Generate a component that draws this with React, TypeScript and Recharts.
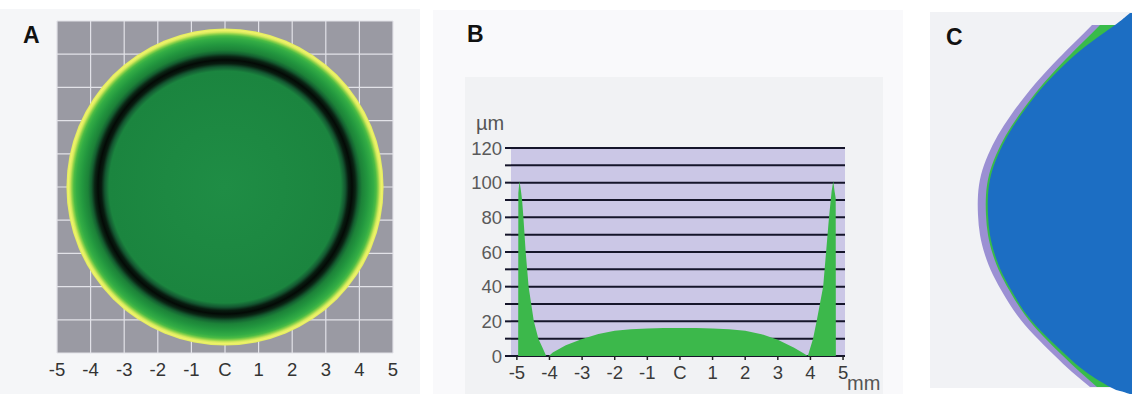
import React from 'react';
import { ComposedChart, Area, XAxis, YAxis, CartesianGrid, ReferenceDot } from 'recharts';

// ---------- shared axis (mm) ----------
const mmTicks = [-5, -4, -3, -2, -1, 0, 1, 2, 3, 4, 5];
const mmTickLabels = ['-5', '-4', '-3', '-2', '-1', 'C', '1', '2', '3', '4', '5'];

// ---------- Panel A : thickness map disc ----------
const discRadiusMm = 4.72;
const discStopMm = [0, 3.45, 3.58, 3.68, 3.78, 3.88, 3.98, 4.08, 4.25, 4.42, 4.5, 4.56, 4.61, 4.66, 4.72];
const discStopColor = ['#1f8d45', '#1b853f', '#135630', '#081c10', '#040a06', '#0a2414', '#145f30', '#1c8238', '#23983f', '#33ad45', '#4cbc44', '#8fd24a', '#d2e85a', '#eef26a', '#e2ec5e'];

// ---------- Panel B : thickness profile ----------
const profileMm = [-4.96, -4.955, -4.92, -4.88, -4.84, -4.8, -4.73, -4.64, -4.48, -4.34, -4.22, -4.1, -4.02, -3.9, -3.5, -3.0, -2.5, -2.0, -1.5, -1.0, -0.5, 0, 0.5, 1.0, 1.5, 2.0, 2.5, 3.0, 3.5, 3.8, 3.92, 4.08, 4.19, 4.39, 4.48, 4.57, 4.65, 4.7, 4.74, 4.775, 4.78];
const thicknessUm = [0, 94, 101, 96, 90, 80, 60, 40, 20, 10, 5, 0, 0, 2, 6.2, 9.8, 12.7, 14.6, 15.5, 15.9, 16.1, 16.2, 16.1, 15.9, 15.4, 14.6, 12.6, 9.4, 4.7, 1.5, 0, 10, 20, 40, 60, 80, 95, 101, 95, 91, 0];
const umTicks = [0, 10, 20, 30, 40, 50, 60, 70, 80, 90, 100, 110, 120];
const umTickLabels = ['0', '', '20', '', '40', '', '60', '', '80', '', '100', '', '120'];

// ---------- Panel C : cross-section edge profile ----------
const edgeRow = [13, 18, 25, 40, 55, 75, 95, 115, 135, 155, 175, 195, 215, 235, 255, 275, 295, 315, 335, 355, 372, 387, 391, 394];
const purpleDepth = [null, null, 40, 55, 70, 89, 106, 121, 134, 144, 151, 154, 154, 152, 147, 139, 128, 115, 98, 78, 60, 42, null, null];
const greenDepth = [null, null, 32, 47, 62, 81, 98, 113, 126, 136, 143, 146, 146, 144, 139, 131, 120, 107, 90, 70, 52, 35, null, null];
const blueDepth = [2, 8, 17, 38, 57, 78, 96, 111, 124, 134, 141, 144, 144, 142, 137, 129, 118, 105, 87, 66, 46, 22, 12, 2];

const profileData = profileMm.map((x, i) => ({ x, t: thicknessUm[i] }));
const edgeData = edgeRow.map((y, i) => ({ y, purple: purpleDepth[i], green: greenDepth[i], blue: blueDepth[i] }));

const FONT = '"Liberation Sans", Arial, Helvetica, sans-serif';

const PanelA = () => {
  const margin = { top: 21, right: 27, bottom: 11, left: 57 };
  const width = 420;
  const plotW = width - margin.left - margin.right;
  const pxPerMm = plotW / (mmTicks[mmTicks.length - 1] - mmTicks[0]);
  return (
    <ComposedChart width={width} height={394} margin={margin} data={[{ x: 0, y: 0 }]}>
      <defs>
        <radialGradient id="discGrad" cx="50%" cy="50%" r="50%">
          {discStopMm.map((r, i) => (
            <stop key={i} offset={`${(r / discRadiusMm) * 100}%`} stopColor={discStopColor[i]} />
          ))}
        </radialGradient>
      </defs>
      <CartesianGrid fill="#9a9aa3" fillOpacity={1} stroke="#e2e2e8" strokeWidth={1.2} />
      <XAxis
        type="number"
        dataKey="x"
        domain={[-5, 5]}
        ticks={mmTicks}
        tickFormatter={(v: number) => mmTickLabels[mmTicks.indexOf(v)]}
        axisLine={false}
        tickLine={false}
        tickSize={0}
        tickMargin={10}
        height={30}
        interval={0}
        tick={{ fontSize: 18.5, fill: '#333' }}
      />
      <YAxis type="number" dataKey="y" domain={[-5, 5]} ticks={mmTicks} hide />
      <ReferenceDot x={0} y={0} r={discRadiusMm * pxPerMm} fill="url(#discGrad)" stroke="none" />
    </ComposedChart>
  );
};

const PanelB = () => (
  <ComposedChart width={440} height={294} margin={{ top: 48, right: 35, bottom: 8, left: 5 }} data={profileData}>
    <CartesianGrid vertical={false} fill="#cbc7e6" fillOpacity={1} stroke="#15152a" strokeWidth={2} />
    <XAxis
      type="number"
      dataKey="x"
      domain={[-5.18, 5.06]}
      allowDataOverflow
      ticks={mmTicks}
      interval={0}
      tickFormatter={(v: number) => mmTickLabels[mmTicks.indexOf(v)]}
      axisLine={false}
      tickLine={{ stroke: '#222', strokeWidth: 1.5 }}
      tickSize={4}
      tickMargin={6}
      height={30}
      tick={{ fontSize: 18.5, fill: '#3a3a3a' }}
    />
    <YAxis
      type="number"
      domain={[0, 120]}
      ticks={umTicks}
      interval={0}
      tickFormatter={(v: number) => umTickLabels[umTicks.indexOf(v)]}
      axisLine={false}
      tickLine={{ stroke: '#15152a', strokeWidth: 2 }}
      tickSize={6}
      tickMargin={3}
      width={66}
      tick={{ fontSize: 18.5, fill: '#5a5a5a' }}
    />
    <Area
      type="linear"
      dataKey="t"
      fill="#3cb84b"
      fillOpacity={1}
      stroke="none"
      isAnimationActive={false}
      dot={false}
      activeDot={false}
    />
  </ComposedChart>
);

const PanelC = () => (
  <ComposedChart layout="vertical" width={202} height={394} margin={{ top: 0, right: 0, bottom: 0, left: 0 }} data={edgeData}>
    <XAxis type="number" domain={[0, 202]} reversed hide allowDataOverflow />
    <YAxis type="number" dataKey="y" domain={[0, 394]} hide allowDataOverflow />
    <Area type="natural" dataKey="purple" fill="#9b90d3" fillOpacity={1} stroke="none" isAnimationActive={false} dot={false} activeDot={false} />
    <Area type="natural" dataKey="green" fill="#38bb4a" fillOpacity={1} stroke="none" isAnimationActive={false} dot={false} activeDot={false} />
    <Area type="natural" dataKey="blue" fill="#1c6ec3" fillOpacity={1} stroke="none" isAnimationActive={false} dot={false} activeDot={false} />
  </ComposedChart>
);

export default function App() {
  const abs = (l: number, t: number, w: number, h: number, bg?: string): React.CSSProperties => ({
    position: 'absolute', left: l, top: t, width: w, height: h, background: bg,
  });
  return (
    <div style={{ position: 'fixed', left: 0, top: 0, width: 1132, height: 394, background: '#ffffff', overflow: 'hidden', fontFamily: FONT }}>
      <div style={abs(0, 9, 420, 385, '#f5f6f8')} />
      <div style={abs(433, 10, 470, 384, '#f9f9fb')} />
      <div style={abs(465, 77, 418, 317, '#f1f2f4')} />
      <div style={abs(930, 12, 202, 376, '#f1f2f5')} />
      <div style={abs(0, 0, 420, 394)}><PanelA /></div>
      <div style={abs(440, 100, 440, 294)}><PanelB /></div>
      <div style={abs(930, 0, 202, 394)}><PanelC /></div>
      <svg width={1132} height={394} style={{ position: 'absolute', left: 0, top: 0, pointerEvents: 'none' }}>
        <text x={23} y={43} fontSize={23} fontWeight="bold" fill="#111" fontFamily={FONT}>A</text>
        <text x={467} y={42} fontSize={23} fontWeight="bold" fill="#111" fontFamily={FONT}>B</text>
        <text x={946} y={45} fontSize={23} fontWeight="bold" fill="#111" fontFamily={FONT}>C</text>
        <text x={476} y={130} fontSize={20} fill="#555" fontFamily={FONT}>µm</text>
        <text x={847} y={390} fontSize={20} fill="#555" fontFamily={FONT}>mm</text>
      </svg>
    </div>
  );
}
